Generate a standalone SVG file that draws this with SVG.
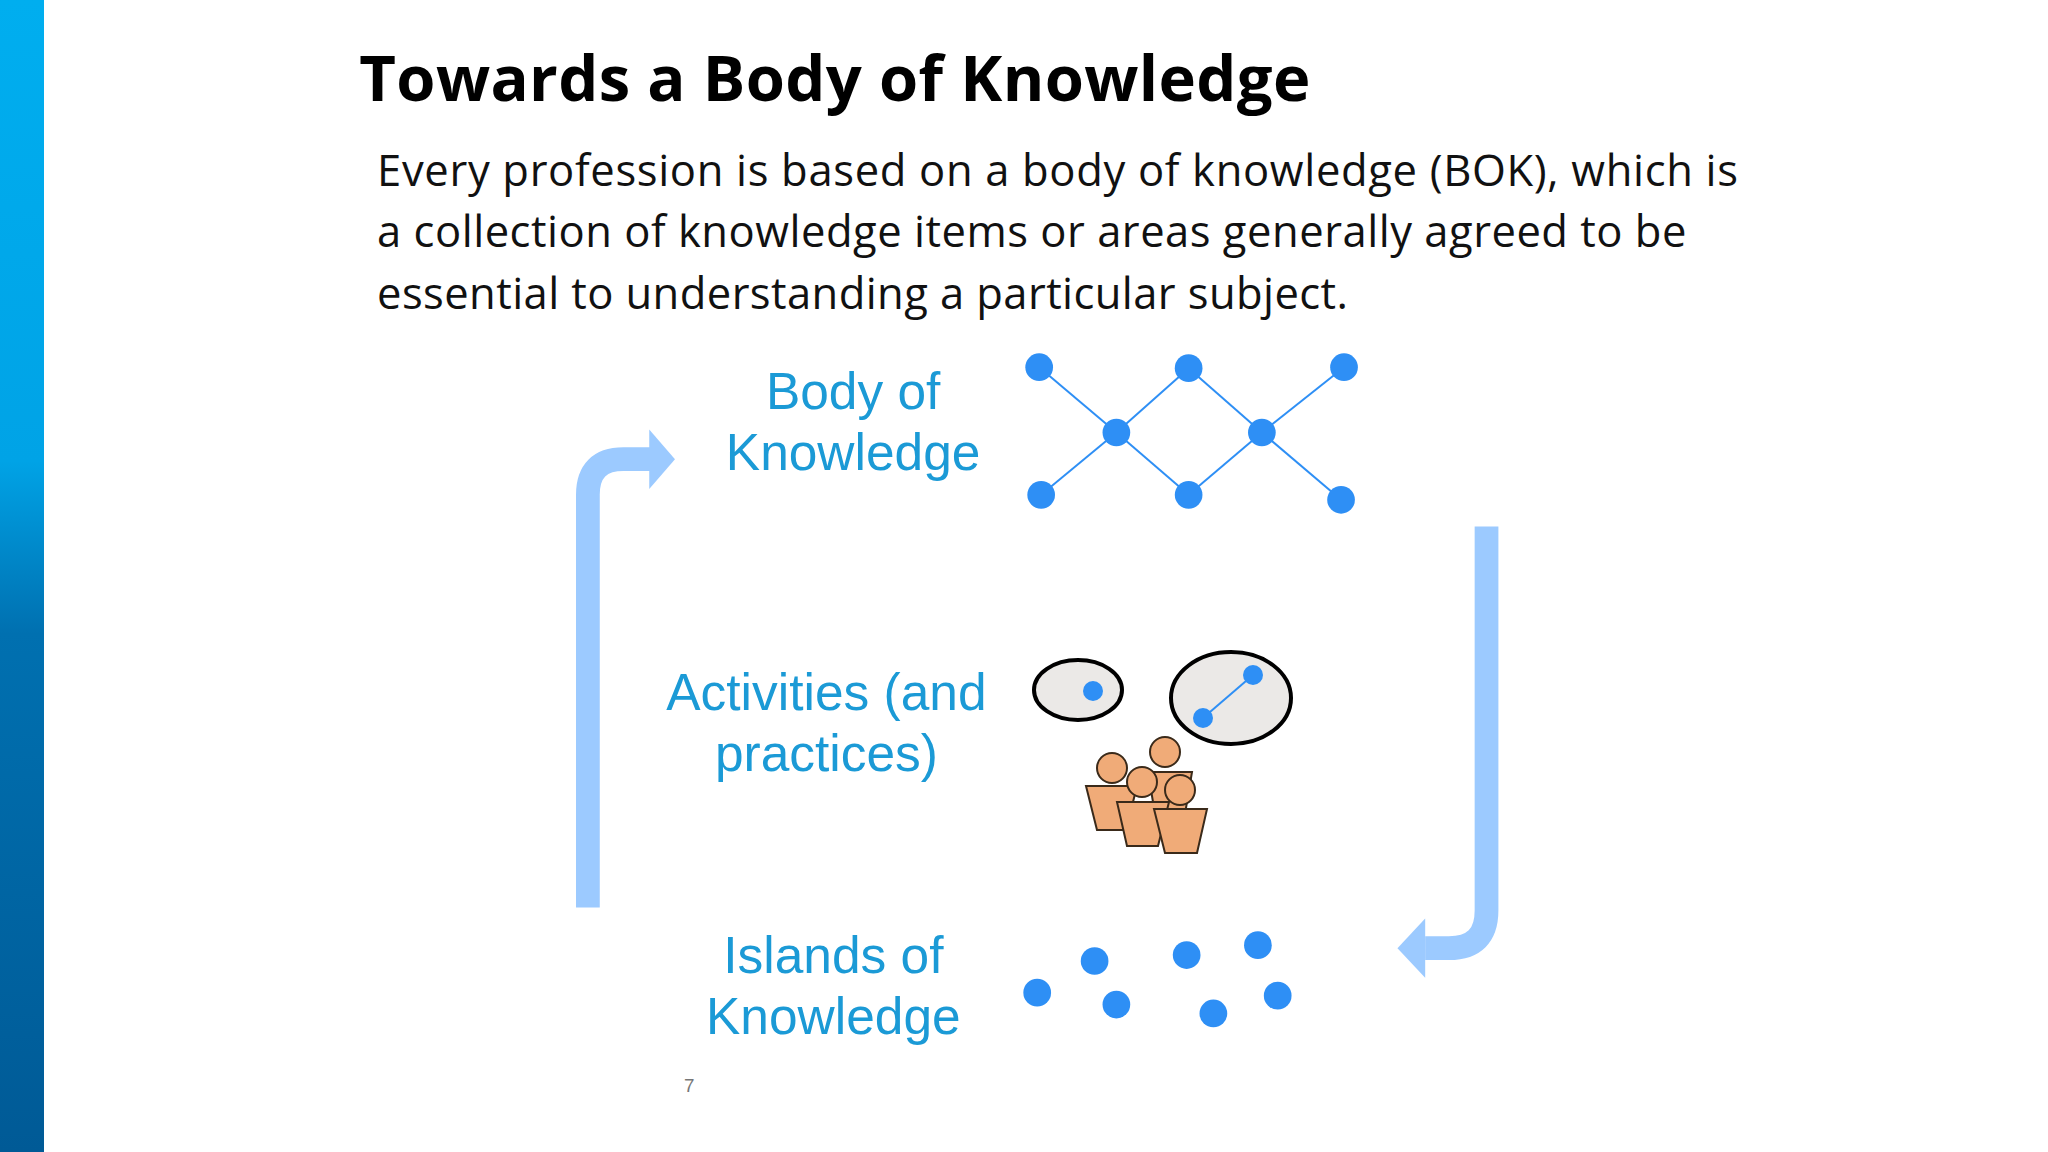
<svg xmlns="http://www.w3.org/2000/svg" width="2048" height="1152" viewBox="0 0 2048 1152">
<defs>
<linearGradient id="bar" x1="0" y1="0" x2="0" y2="1">
<stop offset="0" stop-color="#00aeef"/><stop offset="0.4" stop-color="#00a3e6"/><stop offset="0.55" stop-color="#0070b0"/><stop offset="1" stop-color="#005a96"/>
</linearGradient>
<style>
.lbl{font-family:"Liberation Sans",Arial,sans-serif;font-size:52px;fill:#1b9ad6;text-anchor:middle}
.dot{fill:#2e8ff5}
.edge{stroke:#2e8ff5;stroke-width:2}
.arr{fill:none;stroke:#9ccaff;stroke-width:24}
.body{fill:#f0ab78;stroke:#3a2a1a;stroke-width:2}
.bub{fill:#ebe9e7;stroke:#000;stroke-width:4}
</style>
</defs>
<rect width="2048" height="1152" fill="#fff"/>
<rect x="0" y="0" width="44" height="1152" fill="url(#bar)"/>
<g transform="scale(0.9897)">
<text x="363" y="102" font-family="'Open Sans',sans-serif" font-weight="bold" font-size="64" textLength="961" fill="#000">Towards a Body of Knowledge</text>
<g font-family="'Open Sans',sans-serif" font-size="44" fill="#111">
<text x="381" y="188" textLength="1375">Every profession is based on a body of  knowledge (BOK), which is</text>
<text x="381" y="250" textLength="1323">a collection of knowledge items or areas generally agreed to be</text>
<text x="381" y="312" textLength="981">essential to understanding a particular subject.</text>
</g>
<g id="bok">
<text class="lbl" x="862" y="413">Body of</text>
<text class="lbl" x="862" y="475">Knowledge</text>
<g class="edge">
<line x1="1050" y1="371" x2="1128" y2="437"/><line x1="1201" y1="372" x2="1128" y2="437"/>
<line x1="1201" y1="372" x2="1275" y2="437"/><line x1="1358" y1="371" x2="1275" y2="437"/>
<line x1="1128" y1="437" x2="1052" y2="500"/><line x1="1128" y1="437" x2="1201" y2="500"/>
<line x1="1275" y1="437" x2="1201" y2="500"/><line x1="1275" y1="437" x2="1355" y2="505"/>
</g>
<g class="dot">
<circle cx="1050" cy="371" r="14"/><circle cx="1201" cy="372" r="14"/><circle cx="1358" cy="371" r="14"/>
<circle cx="1128" cy="437" r="14"/><circle cx="1275" cy="437" r="14"/>
<circle cx="1052" cy="500" r="14"/><circle cx="1201" cy="500" r="14"/><circle cx="1355" cy="505" r="14"/>
</g>
</g>
<g id="activities-label">
<text class="lbl" x="835" y="717">Activities (and</text>
<text class="lbl" x="835" y="779">practices)</text>
</g>
<g id="islands">
<text class="lbl" x="842" y="983">Islands of</text>
<text class="lbl" x="842" y="1045">Knowledge</text>
<g class="dot">
<circle cx="1106" cy="971" r="14"/><circle cx="1199" cy="965" r="14"/><circle cx="1271" cy="955" r="14"/>
<circle cx="1048" cy="1003" r="14"/><circle cx="1128" cy="1015" r="14"/><circle cx="1226" cy="1024" r="14"/><circle cx="1291" cy="1006" r="14"/>
</g>
</g>
<g id="connectors">
<path class="arr" d="M594,917 V500 Q594,464 630,464 H660"/>
<polygon points="656,434 682,464 656,494" fill="#9ccaff"/>
<path class="arr" d="M1502,532 V920 Q1502,958 1464,958 H1440"/>
<polygon points="1440,928 1412,958 1440,988" fill="#9ccaff"/>
</g>
<text x="691" y="1103" font-family="'Liberation Sans',sans-serif" font-size="19" fill="#777">7</text>
</g>
<g id="activities">
<ellipse class="bub" cx="1078" cy="690" rx="44" ry="30"/>
<circle class="dot" cx="1093" cy="691" r="10"/>
<ellipse class="bub" cx="1231" cy="698" rx="60" ry="46"/>
<line class="edge" x1="1253" y1="675" x2="1203" y2="718"/>
<circle class="dot" cx="1253" cy="675" r="10"/><circle class="dot" cx="1203" cy="718" r="10"/>
<circle class="body" cx="1165" cy="752" r="15"/>
<polygon class="body" points="1148,772 1192,772 1184,820 1156,820"/>
<circle class="body" cx="1112" cy="768" r="15"/>
<polygon class="body" points="1086,786 1137,786 1126,830 1097,830"/>
<circle class="body" cx="1142" cy="782" r="15"/>
<polygon class="body" points="1117,802 1169,802 1158,846 1127,846"/>
<circle class="body" cx="1180" cy="790" r="15"/>
<polygon class="body" points="1154,809 1207,809 1197,853 1165,853"/>
</g>
</svg>
